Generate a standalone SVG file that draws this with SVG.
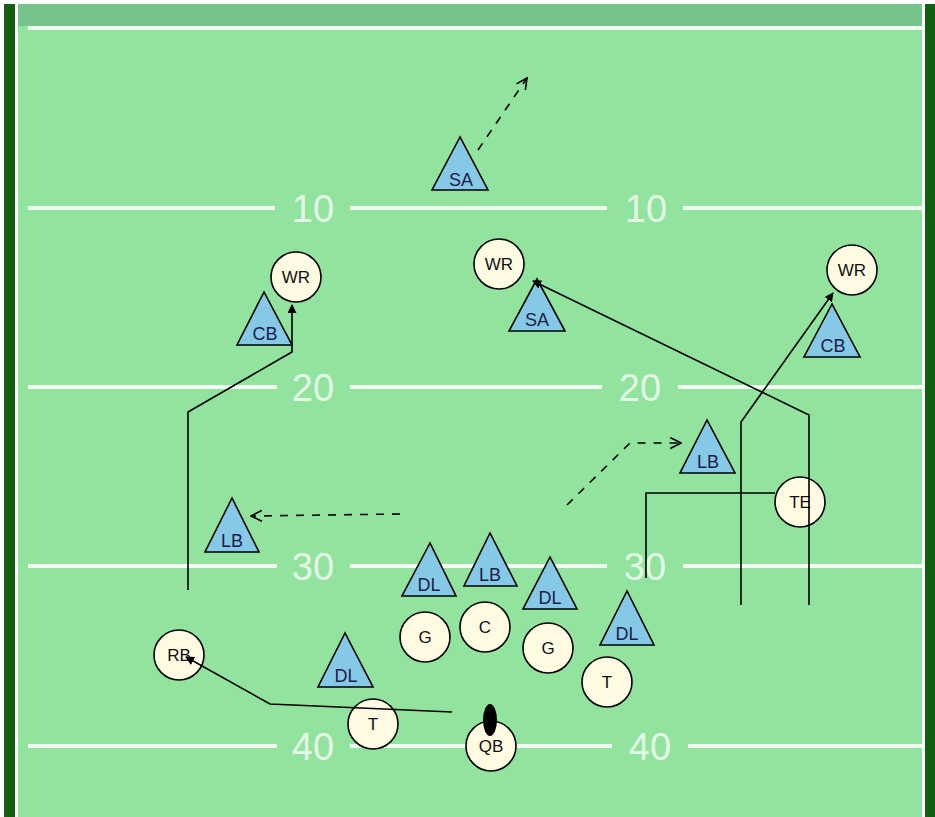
<svg xmlns="http://www.w3.org/2000/svg" width="935" height="817" viewBox="0 0 935 817">
<defs>
<style>
.yl{stroke:#F2FCF2;stroke-width:4;fill:none}
.yn{font-family:"Liberation Sans",Arial,sans-serif;font-size:38px;fill:#F2FCF2;text-anchor:middle;fill-opacity:0.9}
.tri{fill:#86C9E6;stroke:#000;stroke-width:1.6;stroke-linejoin:miter}
.cir{fill:#FFFBE3;stroke:#000;stroke-width:1.6}
.tt{font-family:"Liberation Sans",Arial,sans-serif;font-size:18px;fill:#1C1C48;text-anchor:middle}
.ct{font-family:"Liberation Sans",Arial,sans-serif;font-size:17px;fill:#111;text-anchor:middle}
.solid{fill:none;stroke:#000;stroke-width:1.6}
.dash{fill:none;stroke:#000;stroke-width:1.6;stroke-dasharray:8 8}
</style>
<marker id="ah" viewBox="0 0 10 10" refX="9" refY="5" markerWidth="9" markerHeight="9" orient="auto" markerUnits="userSpaceOnUse">
<path d="M0,0 L10,5 L0,10 Z" fill="#000"/>
</marker>
<marker id="av" viewBox="0 0 12 12" refX="11" refY="6" markerWidth="13" markerHeight="13" orient="auto" markerUnits="userSpaceOnUse">
<path d="M1,1 L11,6 L1,11" fill="none" stroke="#000" stroke-width="1.5"/>
</marker>
</defs>
<g id="field">
<rect x="0" y="0" width="935" height="817" fill="#FFFFFF"/>
<rect x="18" y="4" width="904" height="813" fill="#91E39D"/>
<rect x="18" y="4" width="904" height="22" fill="#74C48C"/>
<rect x="4" y="4" width="11" height="813" fill="#125E12"/>
<rect x="925" y="4" width="10" height="813" fill="#125E12"/>
<line class="yl" x1="28" y1="28" x2="922" y2="28"/>
<line class="yl" x1="28" y1="208" x2="275" y2="208"/><line class="yl" x1="350" y1="208" x2="607" y2="208"/><line class="yl" x1="683" y1="208" x2="922" y2="208"/>
<line class="yl" x1="28" y1="387" x2="277" y2="387"/><line class="yl" x1="350" y1="387" x2="602" y2="387"/><line class="yl" x1="678" y1="387" x2="922" y2="387"/>
<line class="yl" x1="28" y1="566" x2="277" y2="566"/><line class="yl" x1="350" y1="566" x2="607" y2="566"/><line class="yl" x1="683" y1="566" x2="922" y2="566"/>
<line class="yl" x1="28" y1="746" x2="277" y2="746"/><line class="yl" x1="350" y1="746" x2="612" y2="746"/><line class="yl" x1="688" y1="746" x2="922" y2="746"/>
<text class="yn" x="313" y="222">10</text><text class="yn" x="646" y="222">10</text>
<text class="yn" x="313" y="401">20</text><text class="yn" x="640" y="401">20</text>
<text class="yn" x="313" y="580">30</text><text class="yn" x="645" y="580">30</text>
<text class="yn" x="313" y="760">40</text><text class="yn" x="650" y="760">40</text>
</g>
<g id="sa1"><polygon class="tri" points="460,137 432,190 488,190"/><text class="tt" x="461" y="186">SA</text></g>
<g id="cb1"><polygon class="tri" points="264,292 237,345 292,345"/><text class="tt" x="265" y="340">CB</text></g>
<g id="sa2"><polygon class="tri" points="537,279 509,331 565,331"/><text class="tt" x="537" y="326">SA</text></g>
<g id="cb2"><polygon class="tri" points="832,304 804,357 860,357"/><text class="tt" x="833" y="352">CB</text></g>
<g id="lb1"><polygon class="tri" points="707,420 680,473 735,473"/><text class="tt" x="708" y="468">LB</text></g>
<g id="lb2"><polygon class="tri" points="232,498 205,552 259,552"/><text class="tt" x="232" y="547">LB</text></g>
<g id="dl1"><polygon class="tri" points="430,543 402,596 456,596"/><text class="tt" x="429" y="591">DL</text></g>
<g id="lb3"><polygon class="tri" points="490,533 464,586 517,586"/><text class="tt" x="490" y="581">LB</text></g>
<g id="dl2"><polygon class="tri" points="550,557 523,609 577,609"/><text class="tt" x="550" y="604">DL</text></g>
<g id="dl3"><polygon class="tri" points="627,591 600,645 654,645"/><text class="tt" x="627" y="640">DL</text></g>
<g id="dl4"><polygon class="tri" points="345,633 318,687 373,687"/><text class="tt" x="346" y="682">DL</text></g>
<g id="wr1"><circle class="cir" cx="296" cy="277" r="25"/><text class="ct" x="296" y="283">WR</text></g>
<g id="wr2"><circle class="cir" cx="499" cy="264" r="25"/><text class="ct" x="499" y="270">WR</text></g>
<g id="wr3"><circle class="cir" cx="852" cy="270" r="25"/><text class="ct" x="852" y="276">WR</text></g>
<g id="te"><circle class="cir" cx="800" cy="502" r="25"/><text class="ct" x="800" y="508">TE</text></g>
<g id="g1"><circle class="cir" cx="425" cy="637" r="25"/><text class="ct" x="425" y="643">G</text></g>
<g id="c"><circle class="cir" cx="485" cy="627" r="25"/><text class="ct" x="485" y="633">C</text></g>
<g id="g2"><circle class="cir" cx="548" cy="648" r="25"/><text class="ct" x="548" y="654">G</text></g>
<g id="t1"><circle class="cir" cx="607" cy="682" r="25"/><text class="ct" x="607" y="688">T</text></g>
<g id="t2"><circle class="cir" cx="373" cy="724" r="25"/><text class="ct" x="373" y="730">T</text></g>
<g id="qb"><circle class="cir" cx="491" cy="746" r="25"/><text class="ct" x="491" y="752">QB</text><ellipse cx="490" cy="720" rx="7" ry="16" fill="#000"/></g>
<g id="rb"><circle class="cir" cx="179" cy="655" r="25"/><text class="ct" x="179" y="661">RB</text></g>
<g id="connectors">
<path class="solid" d="M188,590 L188,412 L292,352 L292,305" marker-end="url(#ah)"/>
<path class="solid" d="M809,605 L809,415 L533,281" marker-end="url(#ah)"/>
<path class="solid" d="M741,605 L741,422 L833,293" marker-end="url(#ah)"/>
<path class="solid" d="M775,493 L646,493 L646,578"/>
<path class="solid" d="M452,712 L270,704 L186,657" marker-end="url(#ah)"/>
<path class="dash" d="M478,150 L527,78" marker-end="url(#av)"/>
<path class="dash" d="M567,505 L630,443 L681,443" marker-end="url(#av)"/>
<path class="dash" d="M400,514 L251,516" marker-end="url(#av)"/>
</g>
</svg>
